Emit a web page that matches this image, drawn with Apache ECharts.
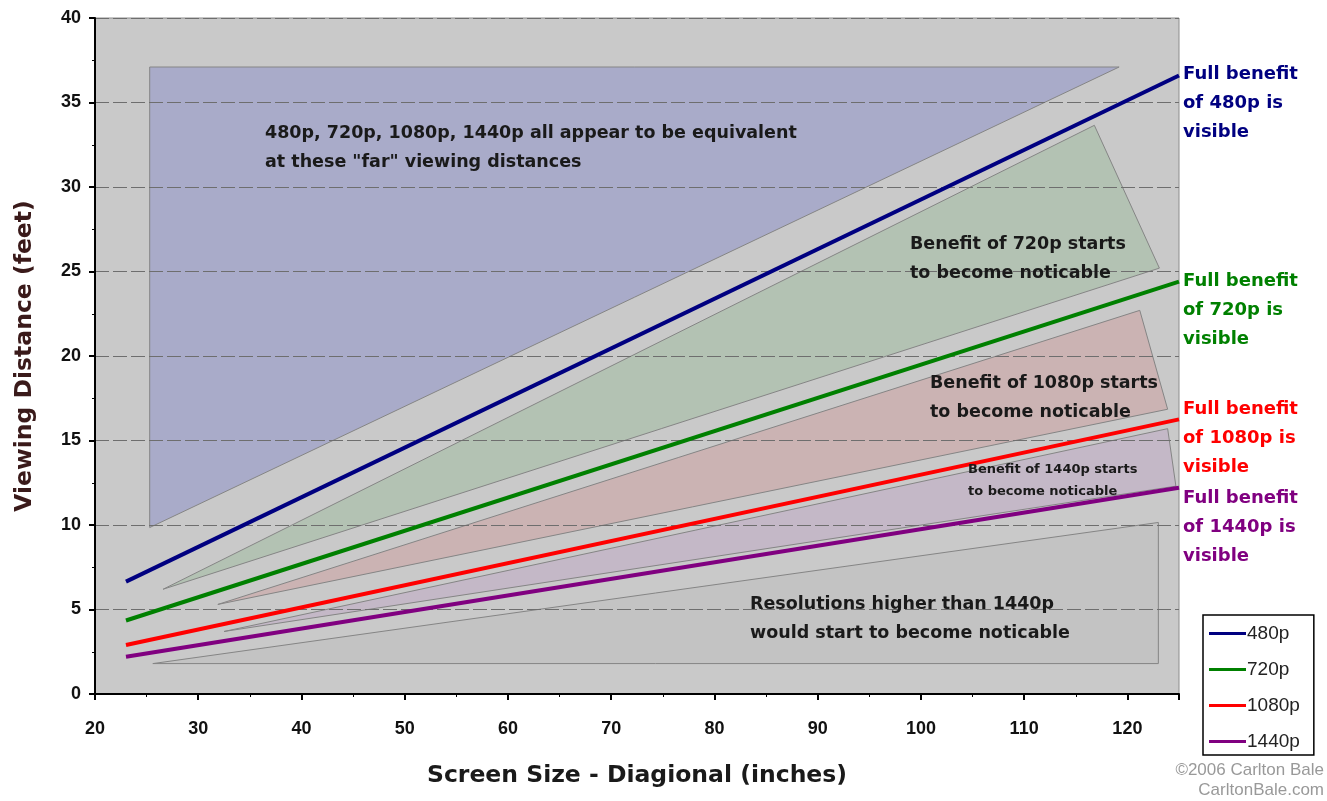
<!DOCTYPE html>
<html><head><meta charset="utf-8">
<script src="https://cdn.jsdelivr.net/npm/echarts@6/dist/echarts.min.js"></script>
<style>html,body{margin:0;padding:0;background:#fff}#c{width:1327px;height:801px}</style>
</head><body><div id="c"></div>
<script>
// ---- data ----
const seriesNames = ['480p', '720p', '1080p', '1440p'];
const line480 = [[23, 6.65], [125, 36.6]];
const line720 = [[23, 4.35], [125, 24.4]];
const line1080 = [[23, 2.9], [125, 16.25]];
const line1440 = [[23, 2.2], [125, 12.2]];
const regionFar = [[25.3, 9.85], [25.3, 37.1], [119.2, 37.1]];
const region720 = [[26.6, 6.2], [116.8, 33.65], [123.1, 25.2]];
const region1080 = [[31.9, 5.3], [121.2, 22.7], [123.9, 16.85]];
const region1440 = [[32.5, 3.7], [123.9, 15.7], [124.7, 12.3]];
const regionHigher = [[25.6, 1.8], [123.0, 10.15], [123.0, 1.8]];
const xTicks = [20, 30, 40, 50, 60, 70, 80, 90, 100, 110, 120];
const yTicks = [0, 5, 10, 15, 20, 25, 30, 35, 40];

const colors = ['#000080', '#008000', '#ff0000', '#800080'];
const chart = echarts.init(document.getElementById('c'));

function regionSeries(pts, fill) {
  return {
    type: 'custom', z: 1, silent: true,
    data: [0],
    renderItem: function (params, api) {
      return {
        type: 'polygon',
        shape: { points: pts.map(p => api.coord(p)) },
        style: { fill: fill, stroke: '#858585', lineWidth: 1 }
      };
    }
  };
}
function lineSeries(name, data, color) {
  return {
    name: name, type: 'line', data: data, z: 5, symbol: 'none',
    lineStyle: { color: color, width: 4 }, itemStyle: { color: color }
  };
}
const ann = 'DejaVu Sans';
function txt(x, y, t, size, color, lh) {
  return { type: 'text', left: x, top: y, z: 100,
    style: { text: t, font: 'bold ' + size + 'px "' + ann + '"', fill: color || '#1a1a1a',
      lineHeight: lh || 29 } };
}

chart.setOption({
  animation: false,
  grid: { left: 95, right: 148, top: 18, bottom: 107, show: true,
    backgroundColor: '#c9c9c9', borderColor: '#8c8c8c', borderWidth: 1 },
  xAxis: {
    type: 'value', min: 20, max: 125, interval: 10, z: 3,
    axisLine: { show: true, onZero: false, lineStyle: { color: '#000', width: 2 } },
    axisTick: { show: true, length: 6, lineStyle: { color: '#000', width: 2 } },
    minorTick: { show: true, splitNumber: 2, length: 3, lineStyle: { color: '#000' } },
    axisLabel: { fontFamily: 'Liberation Sans', fontWeight: 'bold', fontSize: 18, color: '#111', margin: 26,
      showMaxLabel: false, formatter: v => xTicks.includes(v) ? String(v) : '' },
    splitLine: { show: false },
    name: 'Screen Size - Diagional (inches)', nameLocation: 'middle', nameGap: 70,
    nameTextStyle: { fontFamily: ann, fontWeight: 'bold', fontSize: 23.5, color: '#1a1a1a' }
  },
  yAxis: {
    type: 'value', min: 0, max: 40, interval: 5, z: 3,
    axisLine: { show: true, lineStyle: { color: '#000', width: 2 } },
    axisTick: { show: true, length: 6, lineStyle: { color: '#000', width: 2 } },
    minorTick: { show: true, splitNumber: 2, length: 3, lineStyle: { color: '#000' } },
    axisLabel: { fontFamily: 'Liberation Sans', fontWeight: 'bold', fontSize: 18, color: '#111', margin: 14,
      formatter: v => yTicks.includes(v) ? String(v) : '' },
    splitLine: { show: true, lineStyle: { color: '#6e6e6e', width: 1, type: [14, 4] } },
    name: 'Viewing Distance (feet)', nameLocation: 'middle', nameGap: 58,
    nameTextStyle: { fontFamily: ann, fontWeight: 'bold', fontSize: 23.5, color: '#3a1a1a' }
  },
  legend: {
    data: seriesNames, orient: 'vertical', left: 1203, top: 615,
    itemWidth: 37, itemHeight: 3, itemGap: 17, icon: 'rect',
    backgroundColor: '#fff', borderColor: '#000', borderWidth: 1.5,
    padding: [9, 14, 4, 6],
    textStyle: { fontFamily: 'Liberation Sans', fontSize: 19, color: '#222', padding: [0, 0, 0, -4] }
  },
  series: [
    regionSeries(regionHigher, '#c3c3c3'),
    regionSeries(regionFar, '#a9abc9'),
    regionSeries(region720, '#b3c2b3'),
    regionSeries(region1080, '#cbb3b3'),
    regionSeries(region1440, '#c4b8c7'),
    lineSeries(seriesNames[0], line480, colors[0]),
    lineSeries(seriesNames[1], line720, colors[1]),
    lineSeries(seriesNames[2], line1080, colors[2]),
    lineSeries(seriesNames[3], line1440, colors[3])
  ],
  graphic: [
    txt(265, 119, '480p, 720p, 1080p, 1440p all appear to be equivalent\nat these "far" viewing distances', 17.5),
    txt(910, 230, 'Benefit of 720p starts\nto become noticable', 17.5),
    txt(930, 369, 'Benefit of 1080p starts\nto become noticable', 17.5),
    txt(968, 459, 'Benefit of 1440p starts\nto become noticable', 13, '#1a1a1a', 22),
    txt(750, 590, 'Resolutions higher than 1440p\nwould start to become noticable', 17.5),
    txt(1183, 60, 'Full benefit\nof 480p is\nvisible', 18, colors[0]),
    txt(1183, 267, 'Full benefit\nof 720p is\nvisible', 18, colors[1]),
    txt(1183, 395, 'Full benefit\nof 1080p is\nvisible', 18, colors[2]),
    txt(1183, 484, 'Full benefit\nof 1440p is\nvisible', 18, colors[3]),
    { type: 'text', right: 3, top: 760, z: 100,
      style: { text: '©2006 Carlton Bale\nCarltonBale.com', font: '17px "Liberation Sans"', fill: '#999',
        textAlign: 'right', lineHeight: 20 } }
  ]
});
</script></body></html>
